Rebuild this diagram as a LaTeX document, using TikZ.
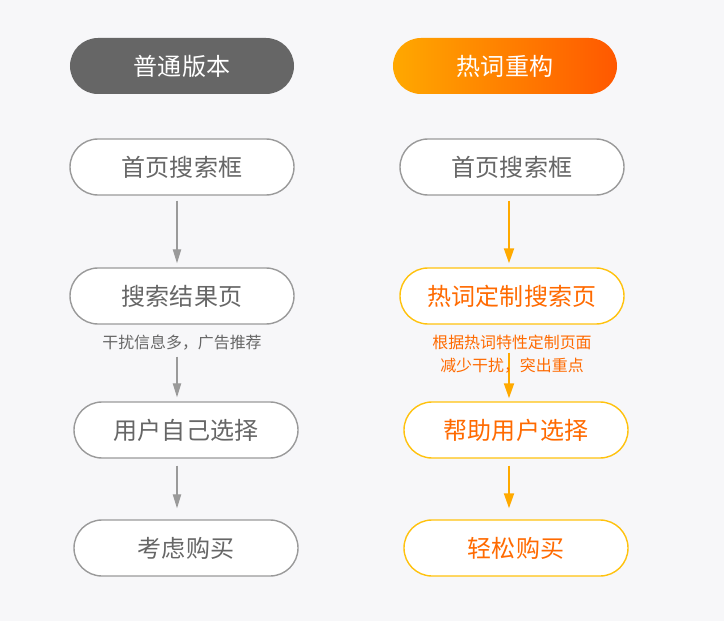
\documentclass[tikz,border=0pt]{standalone}
\usepackage{fontspec}
\setmainfont{Noto Sans CJK SC}
\usetikzlibrary{arrows.meta}

\definecolor{bg}{HTML}{F7F7F9}
\definecolor{txtgray}{HTML}{666666}
\definecolor{linegray}{HTML}{9A9A9A}
\definecolor{hdrgray}{HTML}{666666}
\definecolor{orangetxt}{HTML}{FF6A00}
\definecolor{orangeline}{HTML}{FFC20E}
\definecolor{arroworange}{HTML}{FFAA00}
\definecolor{gradleft}{HTML}{FFA800}
\definecolor{gradright}{HTML}{FF5800}

\tikzset{
    pill/.style={rounded corners=0.84cm, minimum width=6.72cm, minimum height=1.68cm,
        inner sep=0pt, font=\fontsize{20.5}{24}\selectfont},
    header/.style={pill, text=white},
    greybox/.style={pill, draw=linegray, fill=white, line width=1.2pt, text=txtgray},
    orangebox/.style={pill, draw=orangeline, fill=white, line width=1.2pt, text=orangetxt},
    note/.style={font=\fontsize{13.6}{19.6}\selectfont, align=center, inner sep=0pt},
    garrow/.style={draw=linegray, line width=1pt, -{Triangle[width=0.25cm,length=0.42cm]}},
    oarrow/.style={draw=arroworange, line width=1.6pt, -{Triangle[width=0.3cm,length=0.45cm]}}
}

\begin{document}
\begin{tikzpicture}[x=0.03cm, y=-0.03cm]
        % pozadí
        \fill[bg] (0,0) rectangle (724,621);
        \useasboundingbox (0,0) rectangle (724,621);

        \coordinate (colL) at (177,0);
        \coordinate (colR) at (509,0);

        % 普通版本
        \node[header, fill=hdrgray] (hdrL) at (182,66) {普通版本};
        \node[greybox] (homeL) at (182,167) {首页搜索框};
        \node[greybox] (resultL) at (182,296) {搜索结果页};
        \node[greybox] (chooseL) at (186,430) {用户自己选择};
        \node[greybox] (buyL) at (186,548) {考虑购买};

        \draw[garrow, shorten <=0.15cm, shorten >=0.12cm] (homeL.south -| colL) -- (resultL.north -| colL);
        \draw[garrow, shorten <=0.96cm, shorten >=0.12cm] (resultL.south -| colL) -- (chooseL.north -| colL);
        \draw[garrow, shorten <=0.21cm, shorten >=0.33cm] (chooseL.south -| colL) -- (buyL.north -| colL);

        \node[note, text=txtgray] (noteL) at (182,343) {干扰信息多，广告推荐};

        % 热词重构
        \node[header, left color=gradleft, right color=gradright] (hdrR) at (505,66) {热词重构};
        \node[greybox] (homeR) at (512,167) {首页搜索框};
        \node[orangebox] (resultR) at (512,296) {热词定制搜索页};
        \node[orangebox] (chooseR) at (516,430) {帮助用户选择};
        \node[orangebox] (buyR) at (516,548) {轻松购买};

        \draw[oarrow, shorten <=0.15cm, shorten >=0.12cm] (homeR.south -| colR) -- (resultR.north -| colR);
        \draw[oarrow, shorten <=0.84cm, shorten >=0.09cm] (resultR.south -| colR) -- (chooseR.north -| colR);
        \draw[oarrow, shorten <=0.21cm, shorten >=0.33cm] (chooseR.south -| colR) -- (buyR.north -| colR);

        \node[note, text=orangetxt] (noteR) at (512,354.5) {根据热词特性定制页面\\减少干扰，突出重点};

    \end{tikzpicture}
\end{document}
